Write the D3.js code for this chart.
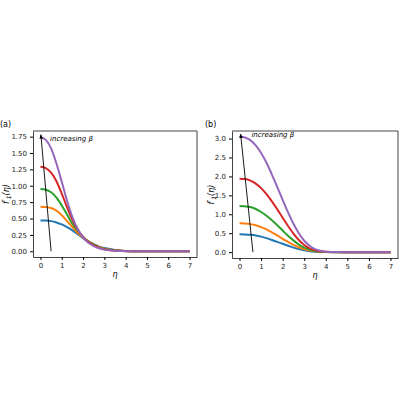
<!DOCTYPE html><html><head><script src="https://cdn.jsdelivr.net/npm/d3@7"></script>
<style>body{margin:0;background:#fff}text{font-family:"DejaVu Sans";}</style></head><body>
<svg id="s" width="400" height="400"></svg>
<script>
const colors=["#1f77b4","#ff7f0e","#2ca02c","#d62728","#9467bd"];
const etaA=[0,0.25,0.5,0.75,1,1.25,1.5,1.75,2,2.25,2.5,2.75,3,3.5,4,4.5,5,6,7];
const seriesA=[
[0.47,0.47,0.46,0.44,0.41,0.37,0.32,0.26,0.20,0.15,0.11,0.07,0.05,0.02,0.005,0,0,0,0],
[0.68,0.675,0.66,0.62,0.55,0.46,0.37,0.28,0.21,0.15,0.10,0.065,0.04,0.015,0.004,0,0,0,0],
[0.95,0.94,0.90,0.82,0.70,0.56,0.42,0.31,0.22,0.15,0.10,0.06,0.035,0.012,0.003,0,0,0,0],
[1.29,1.27,1.20,1.07,0.88,0.67,0.48,0.33,0.22,0.14,0.09,0.055,0.03,0.01,0.002,0,0,0,0],
[1.74,1.70,1.57,1.34,1.06,0.77,0.52,0.34,0.21,0.13,0.08,0.045,0.025,0.008,0.002,0,0,0,0]];
const etaB=[0,0.25,0.5,0.75,1,1.25,1.5,1.75,2,2.25,2.5,2.75,3,3.25,3.5,3.75,4,4.5,5,6,7];
const seriesB=[
[0.47,0.467,0.457,0.44,0.41,0.37,0.32,0.27,0.22,0.17,0.12,0.08,0.05,0.026,0.012,0.005,0.002,0,0,0,0],
[0.76,0.755,0.74,0.71,0.66,0.60,0.52,0.44,0.35,0.27,0.19,0.13,0.08,0.04,0.02,0.008,0.003,0,0,0,0],
[1.22,1.21,1.19,1.14,1.06,0.96,0.84,0.71,0.57,0.43,0.31,0.20,0.12,0.065,0.03,0.012,0.004,0,0,0,0],
[1.94,1.93,1.89,1.81,1.69,1.53,1.34,1.13,0.91,0.69,0.49,0.32,0.19,0.10,0.05,0.02,0.007,0.001,0,0,0],
[3.05,3.03,2.96,2.82,2.62,2.36,2.05,1.72,1.38,1.05,0.75,0.50,0.30,0.17,0.08,0.035,0.012,0.002,0,0,0]];
const ticksA=[0,0.25,0.5,0.75,1,1.25,1.5,1.75], ticksB=[0,0.5,1,1.5,2,2.5,3];
const svg=d3.select("#s");
svg.append("defs").append("marker").attr("id","ah").attr("viewBox","0 0 10 10").attr("refX",9).attr("refY",5)
 .attr("markerWidth",5).attr("markerHeight",5).attr("orient","auto").append("path").attr("d","M0,1L10,5L0,9z").attr("fill","#000");
function panel(o){
 const g=svg.append("g");
 const x=d3.scaleLinear().domain([-0.35,7.35]).range([o.x0,o.x1]);
 const y=d3.scaleLinear().domain(o.ydom).range([o.y1,o.y0]);
 const x0=x(0)-x(-0.35);
 g.append("g").attr("transform",`translate(0,${o.y1})`).call(d3.axisBottom(x).ticks(8).tickFormat(d3.format("d")).tickSize(3).tickSizeOuter(0))
  .call(a=>{a.selectAll("text").attr("font-size",7).attr("fill","#222");a.select(".domain").attr("stroke","#444")});
 g.append("g").attr("transform",`translate(${o.x0},0)`).call(d3.axisLeft(y).tickValues(o.ticks).tickFormat(d3.format(o.fmt)).tickSize(3).tickSizeOuter(0))
  .call(a=>{a.selectAll("text").attr("font-size",7).attr("fill","#222");a.select(".domain").attr("stroke","#444")});
 g.append("line").attr("x1",o.x1).attr("x2",o.x1).attr("y1",o.y0).attr("y2",o.y1).attr("stroke","#444");
 g.append("line").attr("x1",o.x0).attr("x2",o.x1).attr("y1",o.y0).attr("y2",o.y0).attr("stroke","#444");
 const line=d3.line().x((d,i)=>x(o.eta[i])).y(d=>y(d)).curve(d3.curveMonotoneX);
 o.series.forEach((s,i)=>g.append("path").attr("d",line(s)).attr("fill","none").attr("stroke",colors[i]).attr("stroke-width",2));
 g.append("line").attr("x1",x(o.arr[0])).attr("y1",y(0)).attr("x2",x(o.arr[1])).attr("y2",y(o.arr[2])).attr("stroke","#000").attr("stroke-width",0.9).attr("marker-end","url(#ah)");
 g.append("text").attr("x",x(o.tx)).attr("y",y(o.ty)).attr("font-family","DejaVu Serif").attr("font-style","italic").attr("font-size",7).text("increasing β");
 g.append("text").attr("x",(o.x0+o.x1)/2).attr("y",o.y1+20).attr("text-anchor","middle").attr("font-family","DejaVu Serif").attr("font-style","italic").attr("font-size",8).text("η");
 g.append("text").attr("transform",`translate(${o.x0-o.lab},${(o.y0+o.y1)/2}) rotate(-90)`).attr("text-anchor","middle").attr("font-family","DejaVu Serif").attr("font-style","italic").attr("font-size",8).html("f′<tspan font-size='6' dy='2'>1</tspan><tspan dy='-2'>(η)</tspan>");
 g.append("text").attr("x",o.px).attr("y",o.y0-4).attr("font-size",8).text(o.p);
}
panel({x0:33,x1:197,y0:131,y1:257,ydom:[-0.0875*1.0,1.836],eta:etaA,series:seriesA,ticks:ticksA,fmt:".2f",arr:[0.5,0.02,1.78],tx:0.45,ty:1.68,lab:24,px:0,p:"(a)"});
panel({x0:232,x1:398,y0:131,y1:258,ydom:[-0.155,3.2],eta:etaB,series:seriesB,ticks:ticksB,fmt:".1f",arr:[0.62,0.05,3.12],tx:0.55,ty:3.05,lab:18,px:205,p:"(b)"});
</script></body></html>
